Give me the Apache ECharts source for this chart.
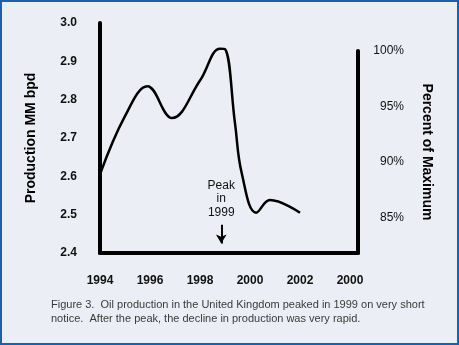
<!DOCTYPE html>
<html>
<head>
<meta charset="utf-8">
<script src="https://cdn.jsdelivr.net/npm/echarts@6/dist/echarts.min.js"></script>
<style>
html,body{margin:0;padding:0;background:#ebeef5;}
#wrap{position:relative;width:459px;height:345px;}
#chart{position:absolute;left:0;top:0;width:459px;height:345px;}
#frame{position:absolute;left:0;top:0;width:459px;height:345px;box-sizing:border-box;border:2px solid #1b5fad;pointer-events:none;}
</style>
</head>
<body>
<div id="wrap"><div id="chart"></div><div id="frame"></div></div>
<script>
// Values
const years      = [1994, 1995, 1995.9, 1996.88, 1998, 1998.8, 1999.0, 1999.4, 1999.67, 2000.25, 2000.8, 2002];
const production = [2.605, 2.757, 2.835, 2.752, 2.85, 2.933, 2.932, 2.738, 2.608, 2.505, 2.538, 2.505];
const xTickValues = [1994, 1996, 1998, 2000, 2002, 2004];
const xTickLabels = ['1994', '1996', '1998', '2000', '2002', '2000'];
const yTickValues = [2.4, 2.5, 2.6, 2.7, 2.8, 2.9, 3.0];
const pctTickValues = [85, 90, 95, 100];
const peakYear = 1998.85;
const peakNote = ['Peak', 'in', '1999'];
const captionLines = [
  'Figure 3.  Oil production in the United Kingdom peaked in 1999 on very short',
  'notice.  After the peak, the decline in production was very rapid.'
];

const FONT = 'Arial, "Liberation Sans", sans-serif';
const chart = echarts.init(document.getElementById('chart'), null, {renderer: 'canvas'});
const data = years.map((y, i) => [y, production[i]]);

chart.setOption({
  backgroundColor: '#ebeef5',
  animation: false,
  grid: [
    {left: 100, right: 101, top: 23, bottom: 92},
    {left: 100, right: 101, top: 51, bottom: 92}
  ],
  xAxis: [
    {
      type: 'value', gridIndex: 0, min: 1994, max: 2004.32,
      axisLine: {show: true, lineStyle: {color: '#000', width: 4}},
      axisTick: {show: false},
      splitLine: {show: false},
      axisLabel: {
        customValues: xTickValues,
        margin: 22,
        color: '#111', fontFamily: FONT, fontSize: 12, fontWeight: 'bold',
        formatter: v => { const i = xTickValues.indexOf(v); return i >= 0 ? xTickLabels[i] : ''; }
      }
    },
    {
      type: 'value', gridIndex: 1, min: 1994, max: 2004.32, show: false
    }
  ],
  yAxis: [
    {
      type: 'value', gridIndex: 0, min: 2.4, max: 3.0,
      axisLine: {show: true, lineStyle: {color: '#000', width: 4}},
      axisTick: {show: false},
      splitLine: {show: false},
      axisLabel: {
        customValues: yTickValues,
        margin: 23,
        color: '#111', fontFamily: FONT, fontSize: 12, fontWeight: 'bold',
        formatter: v => v.toFixed(1)
      },
      name: 'Production MM bpd',
      nameLocation: 'middle',
      nameGap: 62,
      nameTextStyle: {color: '#000', fontFamily: FONT, fontSize: 14, fontWeight: 'bold'}
    },
    {
      type: 'value', gridIndex: 1, position: 'right', min: 81.77, max: 100,
      axisLine: {show: true, lineStyle: {color: '#000', width: 4}},
      axisTick: {show: false},
      splitLine: {show: false},
      axisLabel: {
        customValues: pctTickValues,
        margin: 46, align: 'right',
        color: '#111', fontFamily: FONT, fontSize: 12,
        formatter: v => v + '%'
      },
      name: 'Percent of Maximum',
      nameLocation: 'middle',
      nameRotate: -90,
      nameGap: 62,
      nameTextStyle: {color: '#000', fontFamily: FONT, fontSize: 14, fontWeight: 'bold'}
    }
  ],
  series: [
    {
      type: 'line', xAxisIndex: 0, yAxisIndex: 0,
      data: data,
      smooth: 0.4,
      symbol: 'none',
      lineStyle: {color: '#000', width: 2.5},
      markPoint: {
        symbol: 'circle', symbolSize: 0,
        label: {
          show: true, position: 'inside',
          formatter: peakNote.join('\n'),
          color: '#111', fontFamily: FONT, fontSize: 12, lineHeight: 13.5, align: 'center'
        },
        data: [{coord: [peakYear, 2.541]}]
      },
      markLine: {
        silent: true,
        symbol: ['none', 'arrow'], symbolSize: [8, 9],
        label: {show: false},
        lineStyle: {color: '#000', width: 2, type: 'solid'},
        data: [[{coord: [peakYear, 2.474]}, {coord: [peakYear, 2.425]}]]
      }
    }
  ],
  graphic: [
    {
      type: 'text', left: 51, top: 298,
      style: {
        text: captionLines.join('\n'),
        fill: '#3a3a3a', font: '11px ' + FONT, lineHeight: 14
      }
    }
  ]
});
</script>
</body>
</html>
